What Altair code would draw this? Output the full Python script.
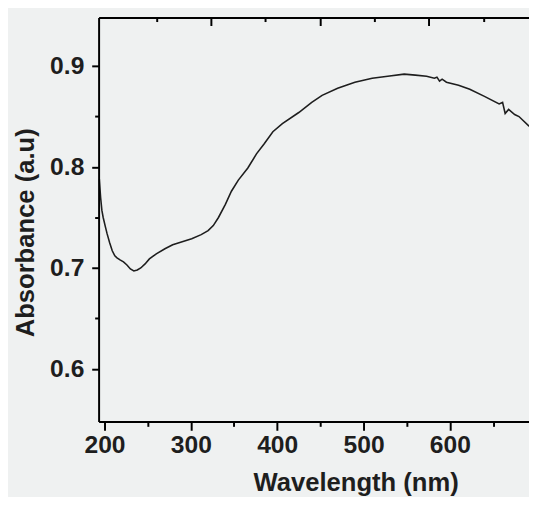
import altair as alt
import pandas as pd

# Wavelength (nm) and absorbance (a.u.)
wavelength = [194.0, 195.5, 197.0, 198.5, 201.0, 203.0, 206.0, 209.0, 212.0, 214.5,
              218.0, 222.0, 226.0, 230.0, 234.0, 238.0, 242.0, 247.0, 252.0, 260.0,
              270.0, 279.0, 290.0, 301.0, 312.0, 320.0, 326.0, 332.0, 340.0, 347.0,
              355.0, 366.0, 376.0, 385.0, 395.0, 406.0, 425.0, 440.0, 452.0, 470.0,
              490.0, 510.0, 528.0, 547.0, 560.0, 573.0, 582.0, 585.0, 588.0, 591.0,
              596.0, 610.0, 623.0, 640.0, 657.0, 661.0, 664.0, 668.0, 675.0, 680.0,
              691.0, 696.0]
absorbance = [0.788, 0.770, 0.757, 0.750, 0.741, 0.734, 0.725, 0.717, 0.712, 0.710,
              0.708, 0.706, 0.703, 0.699, 0.697, 0.698, 0.700, 0.704, 0.709, 0.714,
              0.719, 0.723, 0.726, 0.729, 0.733, 0.737, 0.742, 0.750, 0.763, 0.776,
              0.787, 0.799, 0.813, 0.823, 0.835, 0.843, 0.854, 0.864, 0.871, 0.878,
              0.884, 0.888, 0.890, 0.892, 0.891, 0.890, 0.888, 0.889, 0.885, 0.887,
              0.884, 0.881, 0.877, 0.870, 0.8625, 0.864, 0.853, 0.857, 0.852, 0.850,
              0.841, 0.838]

x_major = [200, 300, 400, 500, 600]
x_minor = [250, 350, 450, 550, 650]
y_major = [0.6, 0.7, 0.8, 0.9]
y_minor = [0.65, 0.75, 0.85]
top_major = [0, 1, 2]
top_minor = [-0.5, 0.5, 1.5, 2.5]

x_domain = [193.2, 691.6]
y_domain = [0.548, 0.948]
top_domain = [-1.03, 2.92]

W, H = 437, 410
FONT = "Liberation Sans"
INK = "#1e1e1e"
AX = "#000000"

df = pd.DataFrame({"w": wavelength, "a": absorbance})
top_df = pd.DataFrame({"t": top_minor + top_major})

xs = alt.Scale(domain=x_domain, nice=False, zero=False)
ys = alt.Scale(domain=y_domain, nice=False, zero=False)
ts = alt.Scale(domain=top_domain, nice=False, zero=False)


def ax(**kw):
    base = dict(domainColor=AX, domainWidth=2, domainOpacity=1, ticks=True,
                tickColor=AX, tickWidth=2, tickOpacity=1, grid=False, zindex=2)
    base.update(kw)
    return alt.Axis(**base)


line = alt.Chart(df).mark_line(color=INK, strokeWidth=1.6, clip=True).encode(
    x=alt.X("w:Q", scale=xs,
            axis=ax(orient="bottom", values=x_major, title="Wavelength (nm)",
                    tickSize=9, labelPadding=3, titlePadding=12, titleX=261)),
    y=alt.Y("a:Q", scale=ys,
            axis=ax(orient="left", values=y_major, title="Absorbance (a.u)", format=".1f",
                    tickSize=7, labelPadding=8, titlePadding=11, titleY=218)),
)

minor = alt.Chart(df).mark_point(opacity=0).encode(
    x=alt.X("w:Q", scale=xs,
            axis=ax(orient="bottom", values=x_minor, tickSize=5, labels=False,
                    domain=False, title=None)),
    y=alt.Y("a:Q", scale=ys,
            axis=ax(orient="left", values=y_minor, tickSize=4, labels=False,
                    domain=False, title=None)),
)

top_a = alt.Chart(top_df).mark_point(opacity=0).encode(
    x=alt.X("t:Q", scale=ts,
            axis=ax(orient="bottom", offset=-H, values=top_major, tickSize=8,
                    labels=False, domain=True, title=None)),
)
top_b = alt.Chart(top_df).mark_point(opacity=0).encode(
    x=alt.X("t:Q", scale=ts,
            axis=ax(orient="bottom", offset=-H, values=top_minor, tickSize=4,
                    labels=False, domain=False, title=None)),
)

chart = alt.layer(line, minor, top_a, top_b).resolve_scale(x="independent").resolve_axis(
    x="independent", y="independent"
).properties(
    width=W, height=H, background="#eff1f1",
    padding={"left": 92, "top": 6, "right": 0, "bottom": 73},
    autosize=alt.AutoSizeParams(type="none"),
).configure_view(stroke=None).configure_axis(
    labelFont=FONT, labelFontSize=25, labelFontWeight="bold", labelColor=INK,
    titleFont=FONT, titleFontSize=26, titleFontWeight="bold", titleColor=INK,
)

chart.save("out.html", embed_options={"renderer": "svg", "actions": False})
